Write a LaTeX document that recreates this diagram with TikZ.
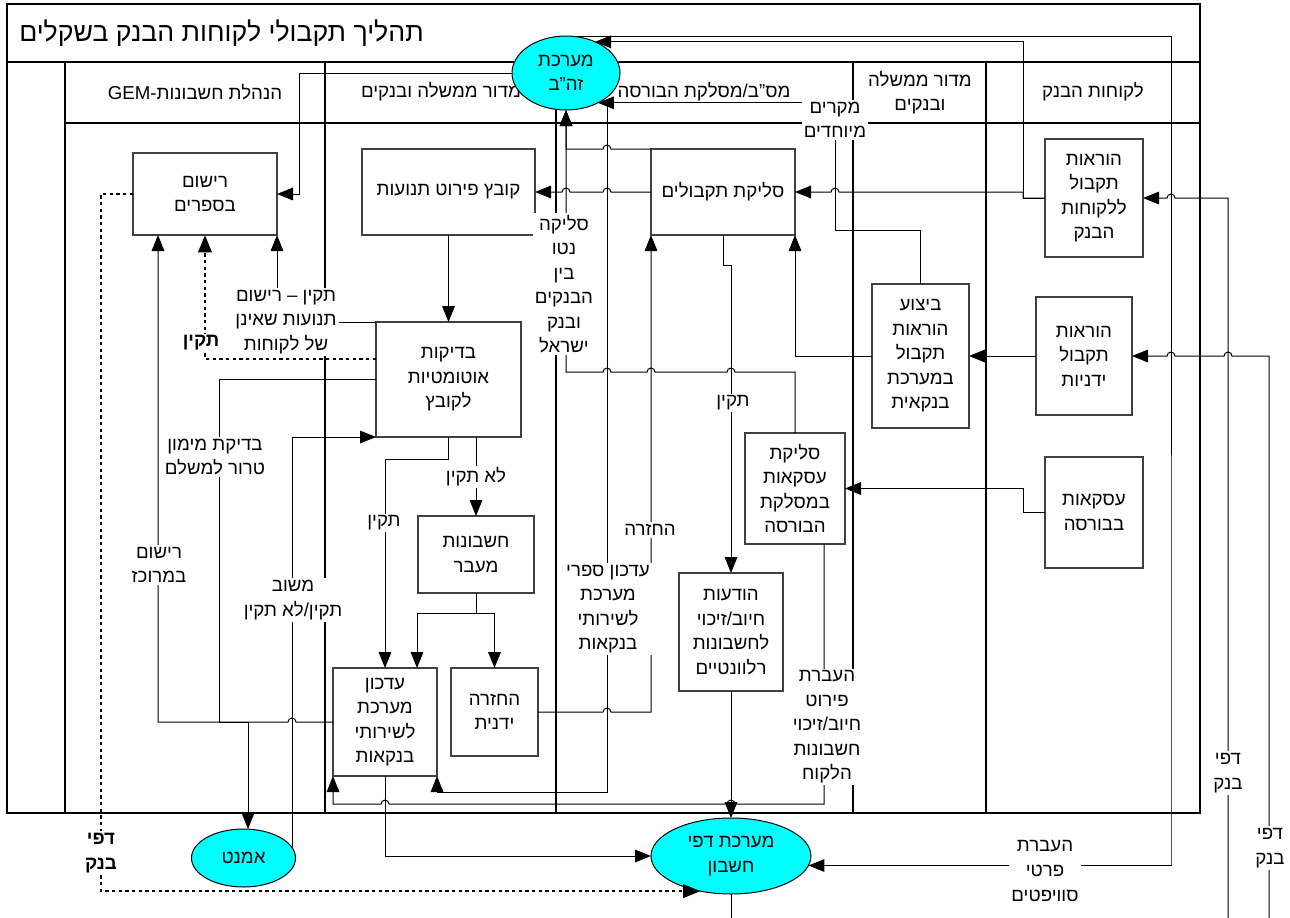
\documentclass[tikz,border=0pt]{standalone}
\usepackage{fontspec}
\setmainfont{Liberation Sans}[Script=Hebrew]
\usetikzlibrary{arrows.meta,shapes.geometric}
\TeXXeTstate=1
\definecolor{sysfill}{RGB}{0,255,255}
\newcommand{\hb}[1]{\beginR #1\endR}
\newcommand{\gq}{\char34\relax}
\newcommand{\bodyfont}{\fontsize{14}{18.4}\selectfont}
% line jumps: small arcs over crossing lines (leftward / rightward travel)
\newcommand{\hopl}[2]{-- (#1+4,#2) arc[start angle=0,end angle=180,radius=3pt]}
\newcommand{\hopr}[2]{-- (#1-4,#2) arc[start angle=180,end angle=0,radius=3pt]}

\begin{document}
\begin{tikzpicture}[x=0.75pt,y=-0.75pt,
  ln/.style={line width=0.75pt, draw=black},
  ar/.style={ln, -{Triangle[length=12pt,width=9.5pt]}},
  dt/.style={line width=2pt, dash pattern=on 2.5pt off 2.5pt, -{Triangle[length=13pt,width=10pt]}},
  lane/.style={line width=1pt, draw=black},
  box/.style={rectangle, draw=black!75, line width=0.8pt, fill=white, inner sep=0pt, outer sep=0pt, align=center, font=\bodyfont},
  oval/.style={ellipse, draw=black, fill=sysfill, line width=0.75pt, inner sep=0pt, outer sep=0pt, align=center, font=\bodyfont},
  lbl/.style={fill=white, inner sep=1.5pt, align=center, font=\bodyfont},
  blbl/.style={lbl, font=\bodyfont\bfseries},
  hdr/.style={align=center, font=\bodyfont, inner sep=0pt}]

\useasboundingbox (0,0) rectangle (1290,918);
\fill[white] (0,0) rectangle (1290,918);

% ---- frame, title and swimlanes ----
\draw[lane] (7,4) rectangle (1200,813);
\draw[line width=1.3pt] (7,62) -- (1200,62);
\draw[lane] (65,123) -- (1200,123);
\foreach \x in {65,325,556,853,986} \draw[lane] (\x,62) -- (\x,813);

\node[anchor=base west, font=\fontsize{20}{24}\selectfont, inner sep=0pt] (title) at (19,41)
  {\hb{תהליך תקבולי לקוחות הבנק בשקלים}};

\node[hdr] (lnA) at (195,92) {\hb{הנהלת חשבונות\kern0pt-\kern0pt GEM}};
\node[hdr] (lnB) at (441,92) {\hb{מדור ממשלה ובנקים}};
\node[hdr] (lnC) at (704,92) {\hb{מס\gq ב/מסלקת הבורסה}};
\node[hdr] (lnD) at (920,92.5) {\hb{מדור ממשלה}\\\hb{ובנקים}};
\node[hdr] (lnE) at (1093,92) {\hb{לקוחות הבנק}};

% ---- process boxes ----
\node[box, minimum width=108pt, minimum height=61.5pt] (rs) at (205,194) {\hb{רישום}\\\hb{בספרים}};
\node[box, minimum width=129.75pt, minimum height=64.5pt] (kf) at (448.5,192) {\hb{קובץ פירוט תנועות}};
\node[box, minimum width=108pt, minimum height=64.5pt] (st) at (723,192) {\hb{סליקת תקבולים}};
\node[box, minimum width=73.5pt, minimum height=88.5pt] (hk) at (1094,198) {\hb{הוראות}\\\hb{תקבול}\\\hb{ללקוחות}\\\hb{הבנק}};
\node[box, minimum width=108.75pt, minimum height=86.25pt] (bd) at (448.5,379.5) {\hb{בדיקות}\\\hb{אוטומטיות}\\\hb{לקובץ}};
\node[box, minimum width=72.75pt, minimum height=108pt] (bz) at (920.5,356) {\hb{ביצוע}\\\hb{הוראות}\\\hb{תקבול}\\\hb{במערכת}\\\hb{בנקאית}};
\node[box, minimum width=72pt, minimum height=88.5pt] (hy) at (1084,356) {\hb{הוראות}\\\hb{תקבול}\\\hb{ידניות}};
\node[box, minimum width=75pt, minimum height=83.25pt] (sa) at (795,488.5) {\hb{סליקת}\\\hb{עסקאות}\\\hb{במסלקת}\\\hb{הבורסה}};
\node[box, minimum width=73.5pt, minimum height=83.25pt] (eb) at (1094,512.5) {\hb{עסקאות}\\\hb{בבורסה}};
\node[box, minimum width=87pt, minimum height=57.75pt] (hm) at (476,554.5) {\hb{חשבונות}\\\hb{מעבר}};
\node[box, minimum width=78pt, minimum height=88.5pt] (ho) at (731,632) {\hb{הודעות}\\\hb{חיוב/זיכוי}\\\hb{לחשבונות}\\\hb{רלוונטיים}};
\node[box, minimum width=78pt, minimum height=81pt] (upd) at (385,722) {\hb{עדכון}\\\hb{מערכת}\\\hb{לשירותי}\\\hb{בנקאות}};
\node[box, minimum width=65.25pt, minimum height=66pt] (hz) at (494.5,712) {\hb{החזרה}\\\hb{ידנית}};

% ---- systems ----
\node[oval, minimum width=81pt, minimum height=55.5pt] (zhb) at (566,73) {\hb{מערכת}\\\hb{זה\gq ב}};
\node[oval, minimum width=78pt, minimum height=43.5pt] (amn) at (243.5,858) {\hb{אמנט}};
\node[oval, minimum width=120pt, minimum height=57pt] (dfc) at (731,856) {\hb{מערכת דפי}\\\hb{חשבון}};

% ---- flows ----
\draw[ar] (kf.south) -- (bd.north);
\draw[ar] (st.west) \hopl{607}{192} \hopl{566}{192} -- (kf.east);
\draw[ar] (hk.west) -- (1023,198) -- (1023,192) \hopl{835}{192} -- (st.east);
\draw[ar] (hk.west) -- (1023,198) |- (zhb.47);
\draw[ar] (zhb.75) -| (1171,865) |- (dfc.353);
\draw[ar] (zhb.west) -| (299,194) -- (rs.east);
\draw[ar] (st.north west) \hopl{607}{149} -- (566,149) -- (zhb.south);
\draw[ar] (sa.north) -- (795,372) \hopl{731}{372} \hopl{651}{372} \hopl{607}{372} -- (566,372) -- (zhb.south);
\draw[ar] (bz.north) |- (835,230) |- (zhb.317);
\draw[ar] (zhb.317) -| (607,792) -| (upd.south east);
\draw[ar] (hz.east) \hopr{607}{712} -- (651,712) -- (st.south west);
\draw[ar] (st.south) -- (723,265) -| (ho.north);
\draw[ar] (ho.south) -- (dfc.north);
\draw[ar] (bz.west) -| (st.south east);
\draw[ar] (hy.west) -- (bz.east);
\draw[ar] (eb.west) -- (1023,512.5) |- (sa.east);
\draw[ar] (1228,918) -- (1228,198) \hopl{1171}{198} -- (hk.east);
\draw[ar] (1269,918) -- (1269,356) \hopl{1228}{356} \hopl{1171}{356} -- (hy.east);
\draw[ln] (dfc.south) -- (731,918);

\draw[ar] (bd.south) -- (448.5,459) -| (upd.north);
\draw[ar] (hm.north |- bd.south) -- (hm.north);
\draw[ar] (hm.south) -- (476,613) -| (417,0 |- upd.north);
\draw[ar] (hm.south) -- (476,613) -| (hz.north);
\draw[dt] (bd.west |- 0,359) -| (rs.south);
\draw[ar] (bd.north west) -| (rs.south east);
\draw[ar] (bd.west) -| (219,722) -| (248,0 |- amn.north);
\draw[ar] (upd.west) \hopl{292}{722} -| (158,0 |- rs.south);
\draw[ar] (amn.12) |- (bd.south west);
\draw[ar] (upd.south) |- (dfc.west);
\draw[ar] (824,0 |- sa.south) -- (824,804) \hopl{731}{804} \hopl{385}{804} -| (upd.south west);
\draw[dt] (rs.west) -| (101,0 |- dfc.229) -- (dfc.229);

% ---- flow labels ----
\node[lbl] (l1) at (286,322) {\hb{תקין – רישום}\\\hb{תנועות שאינן}\\\hb{של לקוחות}};
\node[blbl] (l2) at (201,343) {\hb{תקין}};
\node[lbl] (l3) at (215,457) {\hb{בדיקת מימון}\\\hb{טרור למשלם}};
\node[lbl] (l4) at (159,565) {\hb{רישום}\\\hb{במרוכז}};
\node[lbl] (l5) at (293,600) {\hb{משוב}\\\hb{תקין/לא תקין}};
\node[lbl] (l6) at (384,523) {\hb{תקין}};
\node[lbl] (l7) at (476,477) {\hb{לא תקין}};
\node[lbl] (l8) at (650,530) {\hb{החזרה}};
\node[lbl] (l9) at (608,609) {\hb{עדכון ספרי}\\\hb{מערכת}\\\hb{לשירותי}\\\hb{בנקאות}};
\node[lbl] (l10) at (733,403) {\hb{תקין}};
\node[lbl] (l11) at (827,727) {\hb{העברת}\\\hb{פירוט}\\\hb{חיוב/זיכוי}\\\hb{חשבונות}\\\hb{הלקוח}};
\node[lbl] (l12) at (835,120) {\hb{מקרים}\\\hb{מיוחדים}};
\node[lbl] (l13) at (564,284) {\hb{סליקה}\\\hb{נטו}\\\hb{בין}\\\hb{הבנקים}\\\hb{ובנק}\\\hb{ישראל}};
\node[lbl] (l14) at (1045,871) {\hb{העברת}\\\hb{פרטי}\\\hb{סוויפטים}};
\node[lbl] (l15) at (1228,773) {\hb{דפי}\\\hb{בנק}};
\node[lbl] (l16) at (1270,848) {\hb{דפי}\\\hb{בנק}};
\node[blbl] (l17) at (101,853) {\hb{דפי}\\\hb{בנק}};

\end{tikzpicture}
\end{document}
